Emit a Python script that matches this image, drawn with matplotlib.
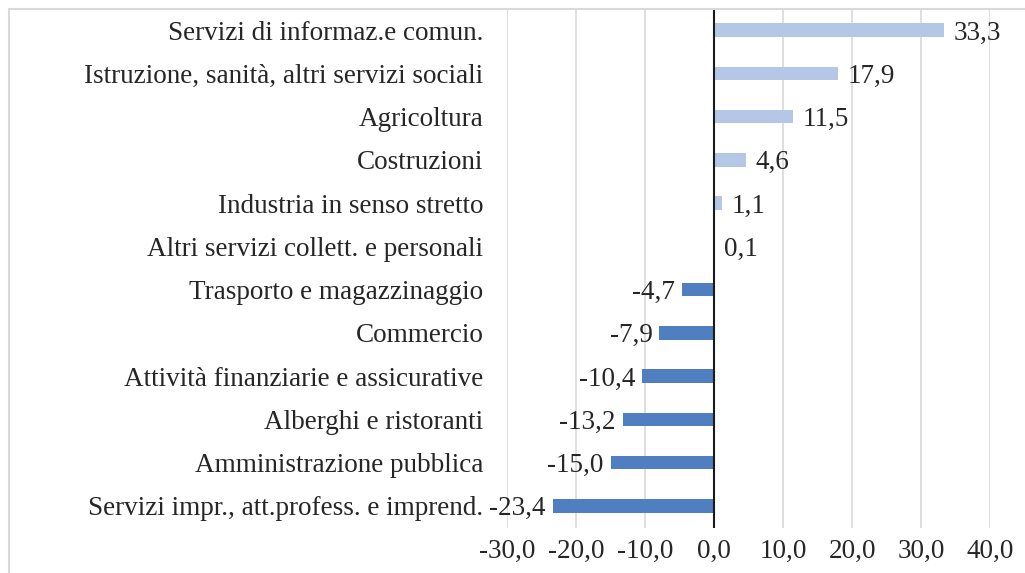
import matplotlib
matplotlib.use("Agg")
import matplotlib.pyplot as plt
from matplotlib.patches import Rectangle

categories = [
    "Servizi di informaz.e comun.",
    "Istruzione, sanità, altri servizi sociali",
    "Agricoltura",
    "Costruzioni",
    "Industria in senso stretto",
    "Altri servizi collett. e personali",
    "Trasporto e magazzinaggio",
    "Commercio",
    "Attività finanziarie e assicurative",
    "Alberghi e ristoranti",
    "Amministrazione pubblica",
    "Servizi impr., att.profess. e imprend.",
]
values = [33.3, 17.9, 11.5, 4.6, 1.1, 0.1, -4.7, -7.9, -10.4, -13.2, -15.0, -23.4]
xticks = [-30, -20, -10, 0, 10, 20, 30, 40]

POS_COLOR = "#B4C7E7"
NEG_COLOR = "#4F7EC1"
FONT = "Liberation Serif"
FS = 19.5

def fmt(v):
    return f"{v:.1f}".replace(".", ",")

W, H = 1025, 573
fig = plt.figure(figsize=(W / 100, H / 100), dpi=100)
fig.patch.set_facecolor("white")

# chart frame
fig.patches.append(Rectangle((9 / W, -0.1), 1.2, 1 - 9 / H + 0.1,
                             transform=fig.transFigure, fill=False,
                             edgecolor="#D9D9D9", linewidth=1.5))

left, right = 507 / W, 990 / W
top, bottom = 1 - 8.5 / H, 1 - 527.5 / H
ax = fig.add_axes([left, bottom, right - left, top - bottom])

n = len(categories)
ypos = list(range(n))
colors = [POS_COLOR if v >= 0 else NEG_COLOR for v in values]
ax.barh(ypos, values, height=0.31, color=colors, zorder=3)

ax.set_xlim(-30, 40)
ax.set_ylim(n - 0.5, -0.5)
ax.set_xticks(xticks)
ax.set_xticklabels([fmt(t) for t in xticks], fontfamily=FONT, fontsize=FS)
ax.set_yticks(ypos)
ax.set_yticklabels(categories, fontfamily=FONT, fontsize=FS, va="center_baseline")
ax.tick_params(axis="both", length=0, colors="#262626")
ax.tick_params(axis="y", pad=17)
ax.tick_params(axis="x", pad=8)

for s in ax.spines.values():
    s.set_visible(False)
ax.grid(axis="x", color="#D9D9D9", linewidth=1.2, zorder=0)
ax.axvline(0, color="#1a1a1a", linewidth=1.5, zorder=4)

for y, v in zip(ypos, values):
    if v >= 0:
        ax.annotate(fmt(v), (v, y), xytext=(7, 0), textcoords="offset points",
                    ha="left", va="center_baseline", fontfamily=FONT, fontsize=FS,
                    color="#262626", zorder=5)
    else:
        ax.annotate(fmt(v), (v, y), xytext=(-5, 0), textcoords="offset points",
                    ha="right", va="center_baseline", fontfamily=FONT, fontsize=FS,
                    color="#262626", zorder=5)

fig.savefig("out.png", dpi=100)
